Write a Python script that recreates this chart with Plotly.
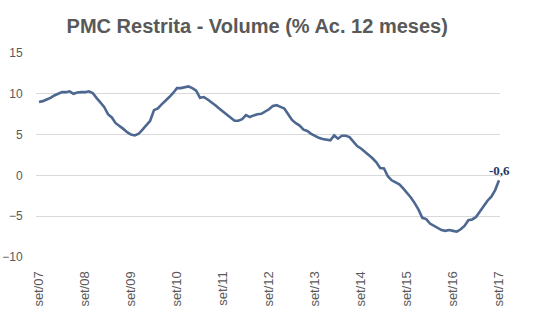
import plotly.graph_objects as go

# Monthly series, Sep/2007 .. Sep/2017 (% accumulated over 12 months)
values = [
    9.0, 9.1, 9.3, 9.5, 9.8, 10.0, 10.2, 10.2, 10.3, 10.0, 10.15, 10.2,
    10.2, 10.3, 10.1, 9.5, 8.9, 8.4, 7.5, 7.1, 6.4, 6.1, 5.7, 5.3,
    5.0, 4.9, 5.1, 5.6, 6.1, 6.7, 8.0, 8.2, 8.7, 9.1, 9.6, 10.1,
    10.7, 10.7, 10.8, 10.9, 10.7, 10.4, 9.5, 9.6, 9.3, 9.0, 8.6, 8.2,
    7.8, 7.4, 7.1, 6.7, 6.7, 6.9, 7.4, 7.15, 7.35, 7.5, 7.55, 7.8,
    8.1, 8.5, 8.6, 8.4, 8.2, 7.5, 6.8, 6.4, 6.1, 5.6, 5.45, 5.1,
    4.8, 4.6, 4.45, 4.35, 4.3, 4.9, 4.5, 4.85, 4.85, 4.7, 4.1, 3.6,
    3.3, 2.9, 2.6, 2.1, 1.6, 0.9, 0.85, -0.1, -0.6, -0.85, -1.1, -1.6,
    -2.1, -2.7, -3.4, -4.2, -5.2, -5.35, -5.9, -6.2, -6.5, -6.7, -6.8, -6.7,
    -6.8, -6.9, -6.6, -6.2, -5.5, -5.4, -5.1, -4.4, -3.7, -3.1, -2.6, -1.8,
    -0.6,
]
months = list(range(len(values)))

tick_positions = list(range(0, 121, 12))
tick_labels = ["set/07", "set/08", "set/09", "set/10", "set/11", "set/12",
               "set/13", "set/14", "set/15", "set/16", "set/17"]
y_ticks = [-10, -5, 0, 5, 10, 15]

last_label = f"{values[-1]:.1f}".replace(".", ",")

fig = go.Figure()
fig.add_trace(go.Scatter(
    x=months, y=values, mode="lines",
    line=dict(color="#4D6890", width=2.6),
    hoverinfo="skip",
))

fig.add_annotation(
    x=months[-1], y=values[-1], text=f"<b>{last_label}</b>",
    showarrow=False, xanchor="center", yanchor="bottom", yshift=0,
    font=dict(family="Liberation Serif", size=13, color="#1F3864"),
)

fig.update_layout(
    width=552, height=326,
    margin=dict(l=36, r=52, t=53, b=69, autoexpand=False),
    paper_bgcolor="white", plot_bgcolor="white",
    showlegend=False,
    title=dict(
        text="<b>PMC Restrita - Volume (% Ac. 12 meses)</b>",
        x=0.466, xanchor="center", xref="container", y=0.92, yanchor="middle",
        font=dict(family="Liberation Sans", size=20, color="#595959"),
    ),
    font=dict(family="Liberation Sans", color="#595959"),
)

fig.update_xaxes(
    range=[-0.78, 120.26], tickmode="array",
    tickvals=tick_positions, ticktext=tick_labels,
    tickangle=-90, showgrid=False, zeroline=False, showline=False,
    ticks="outside", ticklen=8, tickcolor="rgba(0,0,0,0)",
    tickfont=dict(size=13, color="#595959"), automargin=False,
)
fig.update_yaxes(
    range=[-10, 15], tickmode="array", tickvals=y_ticks,
    showgrid=True, gridcolor="#D9D9D9", gridwidth=1,
    zeroline=True, zerolinecolor="#D9D9D9", zerolinewidth=1,
    ticks="outside", ticklen=10, tickcolor="rgba(0,0,0,0)",
    tickfont=dict(size=12, color="#595959"), automargin=False,
)

fig.write_html("out.html")
